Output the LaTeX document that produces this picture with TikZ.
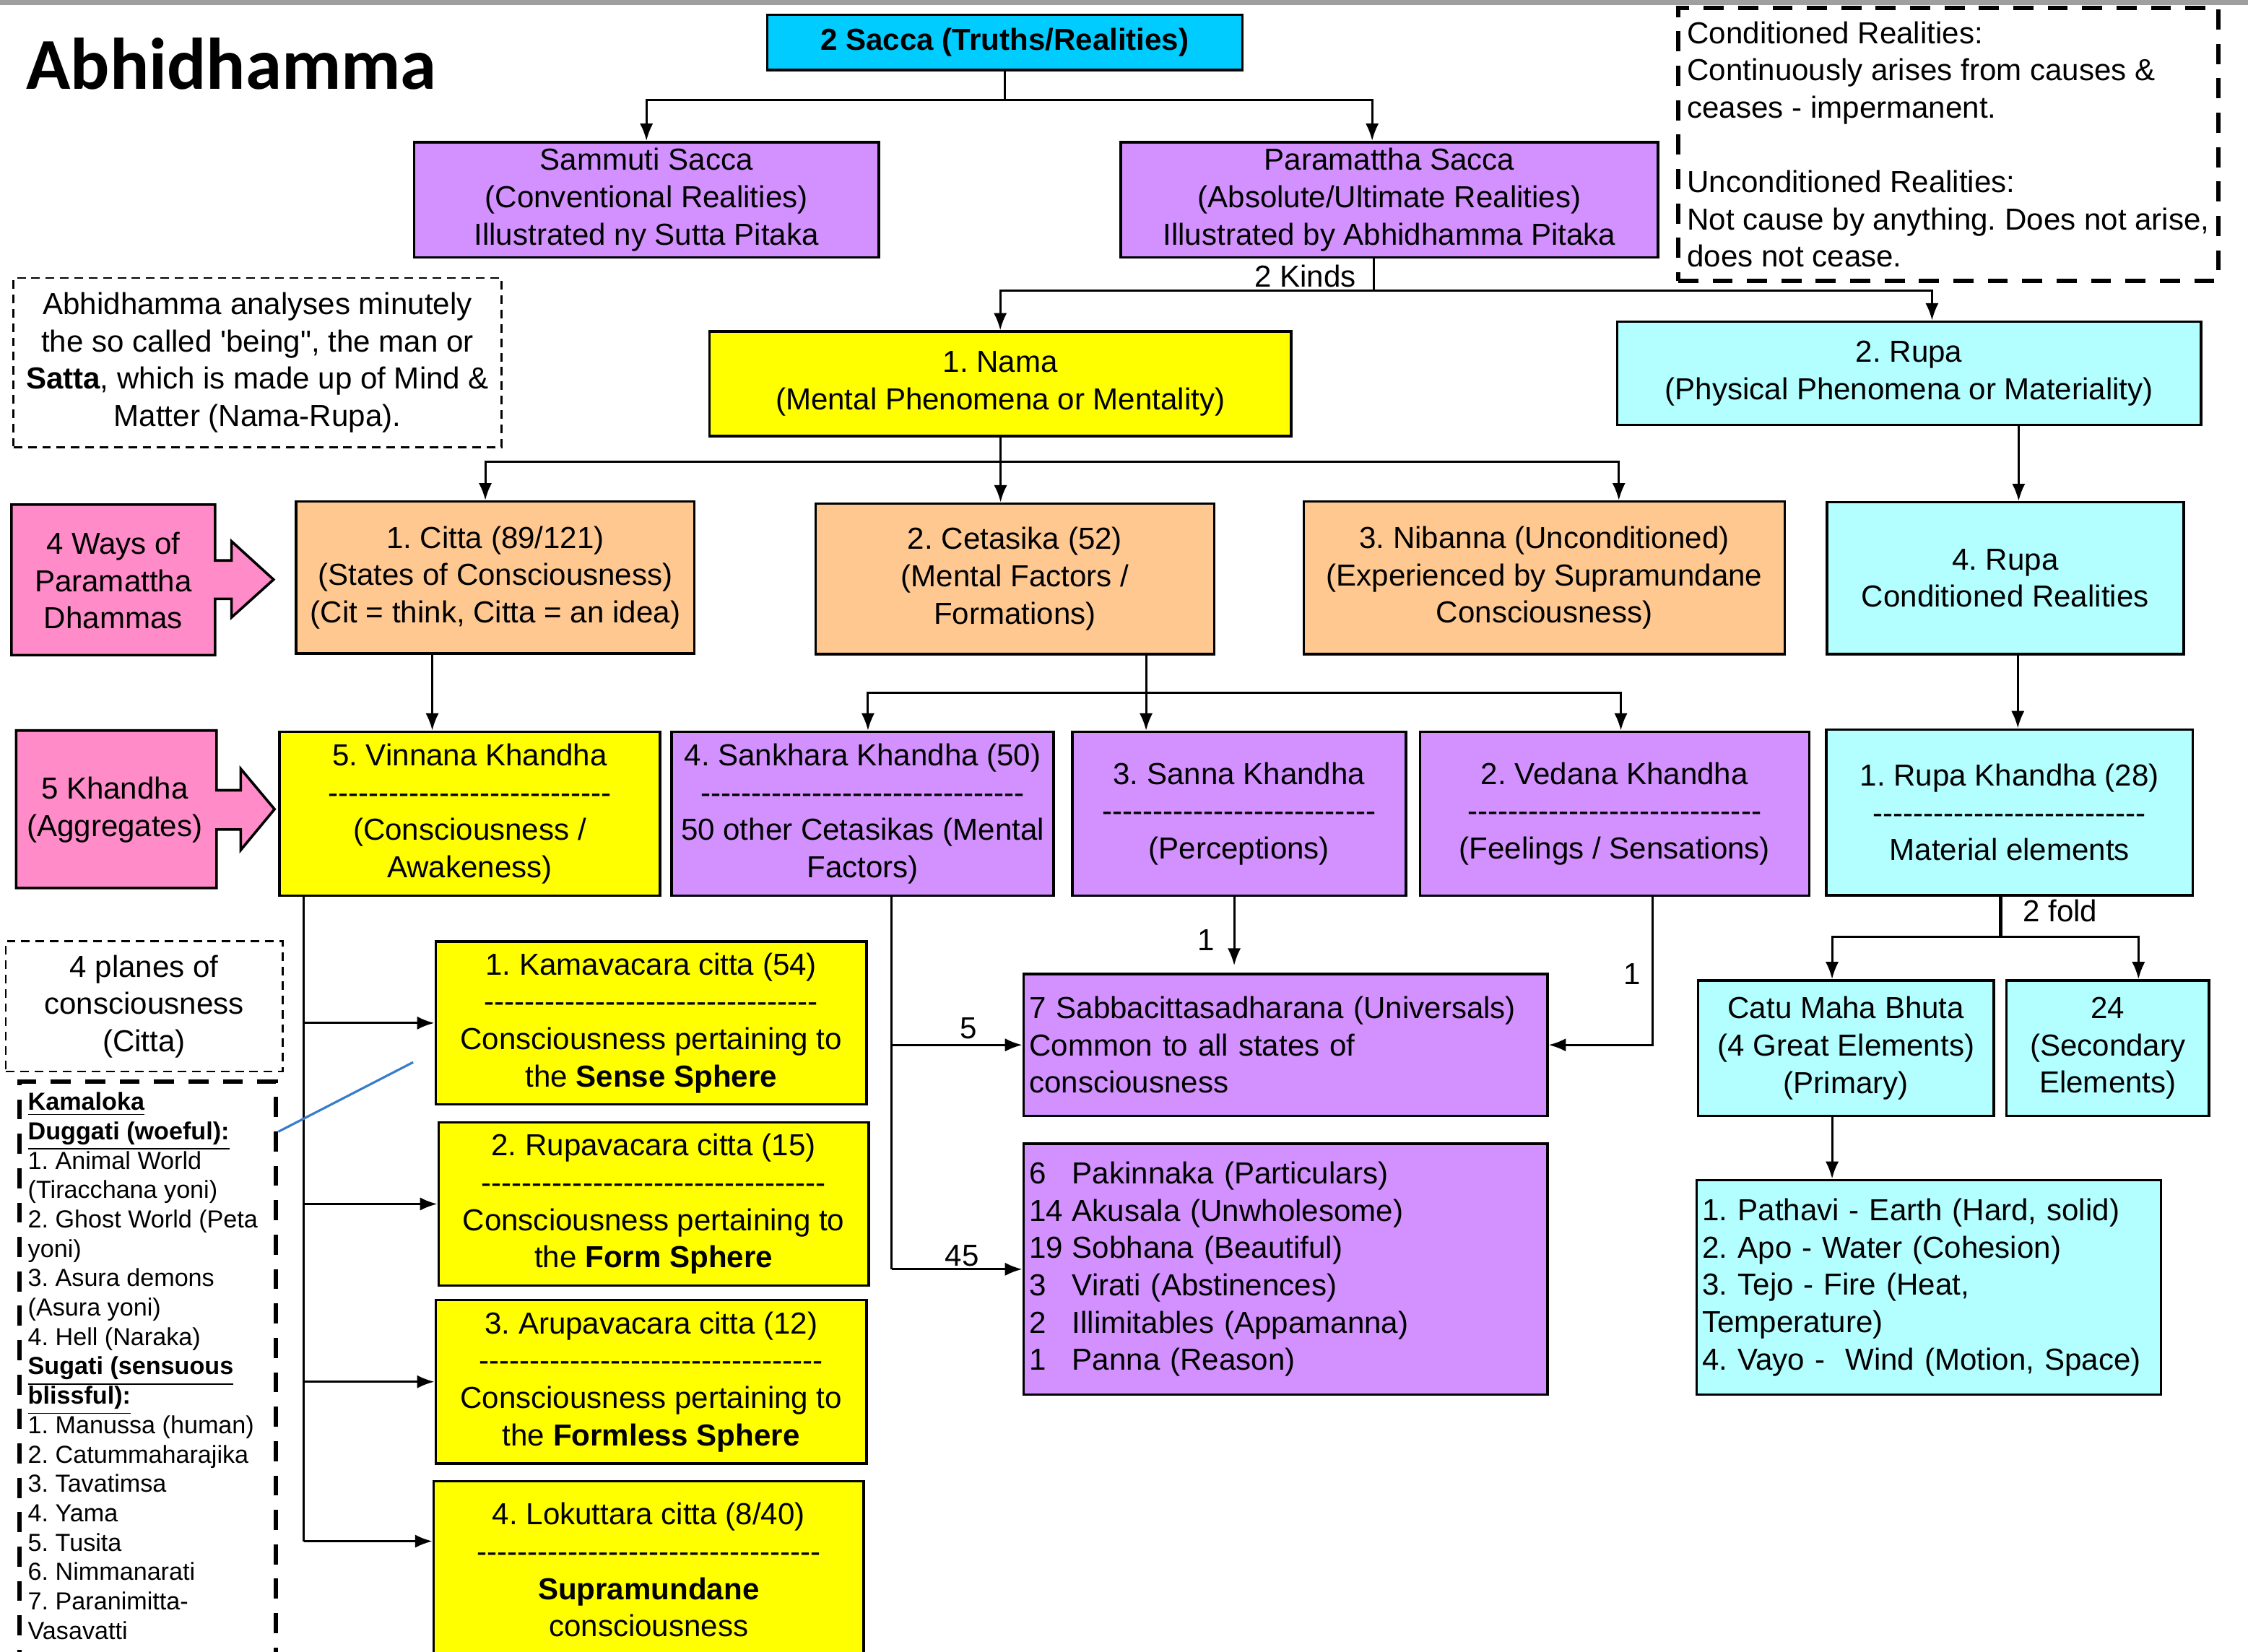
\documentclass[tikz,border=0pt]{standalone}
\usepackage{fontspec}
\setmainfont{Liberation Sans}
\newfontfamily\titlefont{Carlito}
\usetikzlibrary{arrows.meta,calc}
\definecolor{ccyan}{RGB}{0,204,255}
\definecolor{cpurple}{RGB}{210,145,255}
\definecolor{cyellow}{RGB}{255,255,0}
\definecolor{clcyan}{RGB}{179,255,255}
\definecolor{corange}{RGB}{255,200,145}
\definecolor{cpink}{RGB}{255,140,200}
\definecolor{cblue}{RGB}{55,125,200}
\frenchspacing
\newcommand\hyl[1]{\hbox to #1{\cleaders\hbox{-}\hfill}}
\newcommand\cnum[1]{\makebox[15pt][l]{#1}}
\newcommand\mybox[7]{%
  \pgfmathsetmacro\myW{(#5-#3)*0.5}%
  \pgfmathsetmacro\myH{(#6-#4)*0.5}%
  \pgfmathsetmacro\myT{(#5-#3)*0.5-4}%
  \node[#1, minimum width=\myW pt, minimum height=\myH pt, anchor=north west] (#2) at (#3,#4) {#7};}
\tikzset{
  box/.style={draw, line width=0.9pt, inner sep=0pt, align=center, font=\fontsize{10.6pt}{13pt}\selectfont},
  lbox/.style={box, align=left, text width=\myT pt},
  dsh/.style={dash pattern=on 3pt off 2pt, line width=0.7pt},
  tdsh/.style={dash pattern=on 7pt off 5pt, line width=1.5pt},
  conn/.style={line width=0.75pt},
  arr/.style={conn, -{Latex[length=6pt,width=4.6pt]}},
  lbl/.style={inner sep=0pt, font=\fontsize{10.6pt}{13pt}\selectfont},
  pinkshape/.style={draw, fill=cpink, line width=0.9pt}
}
\begin{document}
\begin{tikzpicture}[x=0.5pt, y=-0.5pt]
\useasboundingbox (0,0) rectangle (1568,1152);
\fill[gray!75] (0,0) rectangle (1568,3.5);

% title
\node[anchor=base west, inner sep=0pt, font=\titlefont\bfseries\fontsize{25.5pt}{30pt}\selectfont] (title) at (18,62) {Abhidhamma};

% top level
\mybox{box,fill=ccyan}{sacca}{534.3}{9.4}{865.6}{48}{\textbf{2 Sacca (Truths/Realities)}}
\mybox{box,fill=cpurple}{sammuti}{288}{98.2}{612}{178.6}{Sammuti Sacca\\(Conventional Realities)\\Illustrated ny Sutta Pitaka}
\mybox{box,fill=cpurple}{param}{780.8}{98.2}{1155.6}{178.6}{Paramattha Sacca\\(Absolute/Ultimate Realities)\\Illustrated by Abhidhamma Pitaka}
\mybox{box,align=left,tdsh}{condreal}{1169}{4.2}{1545.9}{194.2}{Conditioned Realities:\\Continuously arises from causes \&\\ceases - impermanent.\\[13pt]Unconditioned Realities:\\Not cause by anything. Does not arise,\\does not cease.}
\mybox{box,dsh}{abhidesc}{8.8}{193.2}{349}{311.2}{Abhidhamma analyses minutely\\the so called \textquotesingle being\textquotedbl, the man or\\\textbf{Satta}, which is made up of Mind \&\\Matter (Nama-Rupa).}

\mybox{box,fill=cyellow}{nama}{494}{230.4}{899.6}{303.3}{1. Nama\\(Mental Phenomena or Mentality)}
\mybox{box,fill=clcyan}{rupa2}{1127}{223.5}{1534.4}{295.5}{2. Rupa\\(Physical Phenomena or Materiality)}

% pink arrows
\path[pinkshape] (8,352) -- (150,352) -- (150,391) -- (161.5,391) -- (161.5,377.6) -- (190.8,404.3) -- (161.5,430.7) -- (161.5,417.7) -- (150,417.7) -- (150,457) -- (8,457) -- cycle;
\node[lbl, align=center] (ways) at (79,405) {4 Ways of\\Paramattha\\Dhammas};
\path[pinkshape] (11.3,509.6) -- (151,509.6) -- (151,551.3) -- (167.9,551.3) -- (167.9,536.3) -- (191.5,564.5) -- (167.9,593) -- (167.9,578.7) -- (151,578.7) -- (151,619.5) -- (11.3,619.5) -- cycle;
\node[lbl, align=center] (khandha) at (80,565) {5 Khandha\\(Aggregates)};

% four paramattha
\mybox{box,fill=corange}{citta}{205.7}{349}{483.5}{455}{1. Citta (89/121)\\(States of Consciousness)\\(Cit = think, Citta = an idea)}
\mybox{box,fill=corange}{cetasika}{568}{350.4}{846}{455.3}{2. Cetasika (52)\\(Mental Factors /\\Formations)}
\mybox{box,fill=corange}{nibanna}{908.5}{349}{1244}{455.3}{3. Nibanna (Unconditioned)\\(Experienced by Supramundane\\Consciousness)}
\mybox{box,fill=clcyan}{rupa4}{1273.3}{349.5}{1522.2}{455.3}{4. Rupa\\Conditioned Realities}

% khandhas
\mybox{box,fill=cyellow}{vinnana}{194}{509.6}{459.5}{624}{5. Vinnana Khandha\\\hyl{100.5pt}\\(Consciousness /\\Awakeness)}
\mybox{box,fill=cpurple}{sankhara}{467.6}{509.6}{734}{624}{4. Sankhara Khandha (50)\\\hyl{114pt}\\50 other Cetasikas (Mental\\Factors)}
\mybox{box,fill=cpurple}{sanna}{747}{509.6}{979.7}{624}{3. Sanna Khandha\\\hyl{96pt}\\(Perceptions)}
\mybox{box,fill=cpurple}{vedana}{989.5}{509.6}{1261}{624}{2. Vedana Khandha\\\hyl{105pt}\\(Feelings / Sensations)}
\mybox{box,fill=clcyan}{rupakh}{1273}{508}{1528.5}{623.6}{1. Rupa Khandha (28)\\\hyl{97pt}\\Material elements}

% planes
\mybox{box,dsh}{planes}{3.3}{656}{196.3}{746.8}{4 planes of\\consciousness\\(Citta)}
\node[draw, tdsh, inner sep=0pt, minimum width=89.4pt, minimum height=211pt, anchor=north west] (kamaloka) at (12.3,753) {\parbox[c][211pt][t]{83.7pt}{\fontsize{8.6pt}{10.25pt}\selectfont\raggedright
\rule{0pt}{10pt}\underline{\textbf{Kamaloka}}\\
\underline{\textbf{Duggati (woeful):}}\\
1. Animal World\\
(Tiracchana yoni)\\
2. Ghost World (Peta\\
yoni)\\
3. Asura demons\\
(Asura yoni)\\
4. Hell (Naraka)\\
\underline{\textbf{Sugati (sensuous}}\\
\underline{\textbf{blissful):}}\\
1. Manussa (human)\\
2. Catummaharajika\\
3. Tavatimsa\\
4. Yama\\
5. Tusita\\
6. Nimmanarati\\
7. Paranimitta-\\
Vasavatti}};

\mybox{box,fill=cyellow}{kama}{303}{656}{603.6}{769.5}{1. Kamavacara citta (54)\\\hyl{119pt}\\Consciousness pertaining to\\the \textbf{Sense Sphere}}
\mybox{box,fill=cyellow}{rupav}{305}{782}{605}{896}{2. Rupavacara citta (15)\\\hyl{122pt}\\Consciousness pertaining to\\the \textbf{Form Sphere}}
\mybox{box,fill=cyellow}{arupa}{303}{906}{603.6}{1020}{3. Arupavacara citta (12)\\\hyl{121.5pt}\\Consciousness pertaining to\\the \textbf{Formless Sphere}}
\mybox{box,fill=cyellow}{loku}{301.6}{1032.5}{601.5}{1156}{4. Lokuttara citta (8/40)\\\hyl{122pt}\\\textbf{Supramundane}\\consciousness}

\mybox{lbox,fill=cpurple}{sabba}{713}{678.5}{1078.4}{777.6}{7 Sabbacittasadharana (Universals)\\Common to all states of\\consciousness}
\mybox{lbox,fill=cpurple}{pakin}{713}{797}{1078.4}{972}{\cnum{6}Pakinnaka (Particulars)\\\cnum{14}Akusala (Unwholesome)\\\cnum{19}Sobhana (Beautiful)\\\cnum{3}Virati (Abstinences)\\\cnum{2}Illimitables (Appamanna)\\\cnum{1}Panna (Reason)}
\mybox{box,fill=clcyan}{catu}{1183.6}{683}{1389.8}{777.6}{Catu Maha Bhuta\\(4 Great Elements)\\(Primary)}
\mybox{box,fill=clcyan}{sec24}{1398.6}{683}{1540}{777.6}{24\\(Secondary\\Elements)}
\mybox{lbox,fill=clcyan}{pathavi}{1182.5}{822.3}{1506.3}{972}{1. Pathavi - Earth (Hard, solid)\\2. Apo - Water (Cohesion)\\3. Tejo - Fire (Heat,\\Temperature)\\4. Vayo -\ \ Wind (Motion, Space)}

% labels
\node[lbl, anchor=base] (kinds) at (910.5,200.4) {2 Kinds};
\node[lbl, anchor=base] (l5) at (675.7,724.6) {5};
\node[lbl, anchor=base] (l45) at (671,883) {45};
\node[lbl, anchor=base] (l1a) at (841.2,663.3) {1};
\node[lbl, anchor=base] (l1b) at (1138.5,686.8) {1};
\node[lbl, anchor=base west] (fold) at (1410.6,643.2) {2 fold};

% connectors
\draw[conn] (sacca.south) -- ++(0,20) coordinate (j1);
\draw[arr] (j1) -| (sammuti.north);
\draw[arr] (j1) -| ([xshift=-6pt]param.north);

\draw[conn] ([xshift=-5.5pt]param.south) -- ++(0,22.3) coordinate (j2);
\draw[arr] (j2) -| (nama.north);
\draw[arr] (j2) -| ([xshift=8pt]rupa2.north);

\draw[conn] (nama.south) -- ++(0,17) coordinate (j3);
\draw[arr] (j3) -| ([xshift=-3.5pt]citta.north);
\draw[arr] (j3) -| ([xshift=-5pt]cetasika.north);
\draw[arr] (j3) -| ([xshift=26pt]nibanna.north);

\draw[arr] ([xshift=38.2pt]rupa2.south) -- ([xshift=38.2pt]rupa2.south |- rupa4.north);
\draw[arr] ([xshift=-22pt]citta.south) -- ([xshift=-22pt]citta.south |- vinnana.north);

\draw[conn] ([xshift=45.75pt]cetasika.south) -- ++(0,26.3) coordinate (j4);
\draw[arr] (j4) -| ([xshift=1.85pt]sankhara.north);
\draw[arr] (j4) -- (j4 |- sanna.north);
\draw[arr] (j4) -| ([xshift=2.2pt]vedana.north);

\draw[arr] ([xshift=4.4pt]rupa4.south) -- ([xshift=4.4pt]rupa4.south |- rupakh.north);

\draw[conn, line width=1.1pt] ([xshift=-3.1pt]rupakh.south) -- ++(0,28.3) coordinate (j5);
\draw[arr] (j5) -| ([xshift=-4.85pt]catu.north);
\draw[arr] (j5) -| ([xshift=10.7pt]sec24.north);
\draw[arr] ([xshift=-4.85pt]catu.south) -- ([xshift=-4.85pt]catu.south |- pathavi.north);

\coordinate (vtop) at ([xshift=9pt]vinnana.south west);
\coordinate (lkin) at ([yshift=10pt]loku.west);
\draw[conn] (vtop) -- (vtop |- lkin);
\draw[arr] (vtop |- kama.west) -- (kama.west);
\draw[arr] (vtop |- rupav.west) -- (rupav.west);
\draw[arr] (vtop |- arupa.west) -- (arupa.west);
\draw[arr] (vtop |- lkin) -- (lkin);

\coordinate (stop) at ([xshift=77.2pt]sankhara.south west);
\draw[conn] (stop) -- (stop |- pakin.west);
\draw[arr] (stop |- sabba.west) -- (sabba.west);
\draw[arr] (stop |- pakin.west) -- (pakin.west);

\draw[arr, shorten >=2.5pt] ([xshift=-1.7pt]sanna.south) -- ([xshift=-1.7pt]sanna.south |- sabba.north);
\draw[arr] ([xshift=13.2pt]vedana.south) |- (sabba.east);

\coordinate (bluend) at (288.2,741);
\draw[cblue, line width=0.8pt] ([yshift=-18.25pt]kamaloka.north east) -- (bluend);
\end{tikzpicture}
\end{document}
